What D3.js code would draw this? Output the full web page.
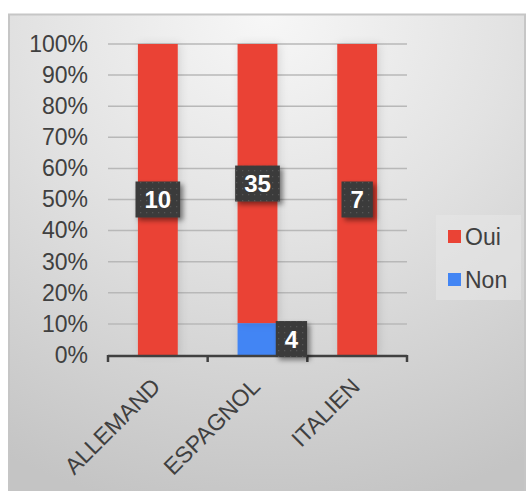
<!DOCTYPE html>
<html><head><meta charset="utf-8">
<script src="https://cdn.jsdelivr.net/npm/d3@7"></script>
<style>body{margin:0;background:#fff}svg{display:block}</style>
</head><body>
<script>
const categories = ["ALLEMAND", "ESPAGNOL", "ITALIEN"];
const seriesNames = ["Oui", "Non"];
const ouiValues = [10, 35, 7];
const nonValues = [0, 4, 0];
const yTicks = [0, 0.1, 0.2, 0.3, 0.4, 0.5, 0.6, 0.7, 0.8, 0.9, 1];
const colors = {Oui: "#EA4335", Non: "#4285F4"};

const W = 526, H = 491;
const FONT = "Liberation Sans, Arial, sans-serif";
const svg = d3.select("body").append("svg").attr("width", W).attr("height", H);
const defs = svg.append("defs");
const grad = defs.append("radialGradient").attr("id", "bg")
  .attr("cx", "0.5").attr("cy", "0").attr("r", "1.05").attr("fx", "0.5").attr("fy", "0");
grad.append("stop").attr("offset", "0").attr("stop-color", "#f7f7f7");
grad.append("stop").attr("offset", "0.45").attr("stop-color", "#e2e2e2");
grad.append("stop").attr("offset", "1").attr("stop-color", "#c4c4c4");
const pat = defs.append("pattern").attr("id", "dots").attr("width", 6).attr("height", 6)
  .attr("patternUnits", "userSpaceOnUse");
pat.append("rect").attr("width", 6).attr("height", 6).attr("fill", "#3a3a3a");
pat.append("rect").attr("x", 2).attr("y", 2).attr("width", 1.3).attr("height", 1.3).attr("fill", "#575757");
const sh = defs.append("filter").attr("id", "shadow").attr("x", "-30%").attr("y", "-30%").attr("width", "170%").attr("height", "170%");
sh.append("feDropShadow").attr("dx", 3).attr("dy", 3).attr("stdDeviation", 2.5).attr("flood-color", "#000").attr("flood-opacity", 0.45);
const bsh = defs.append("filter").attr("id", "bshadow").attr("x", "-40%").attr("y", "-5%").attr("width", "180%").attr("height", "110%");
bsh.append("feDropShadow").attr("dx", 2).attr("dy", 0).attr("stdDeviation", 4).attr("flood-color", "#000").attr("flood-opacity", 0.12);

// frame
svg.append("rect").attr("x", 9).attr("y", 14.5).attr("width", 516).attr("height", 480)
  .attr("fill", "url(#bg)").attr("stroke", "#c6c6c6").attr("stroke-width", 2);

const x = d3.scaleBand().domain(categories).range([108, 407]).paddingInner(0.6).paddingOuter(0.3);
const y = d3.scaleLinear().domain([0, 1]).range([355, 44]);

// gridlines
svg.append("g").selectAll("line").data(yTicks.filter(t => t > 0)).join("line")
  .attr("x1", 108).attr("x2", 407).attr("y1", d => y(d)).attr("y2", d => y(d))
  .attr("stroke", "#b8b8b8").attr("stroke-width", 1.5);

// y labels
const yAxis = d3.axisLeft(y).tickValues(yTicks).tickFormat(d3.format(".0%")).tickSize(0).tickPadding(0);
const ya = svg.append("g").attr("transform", "translate(88,0)").call(yAxis);
ya.select(".domain").remove();
ya.selectAll("text").attr("font-family", FONT).attr("font-size", 23).attr("fill", "#404040");

// stacked data
const rows = categories.map((c, i) => ({c, Oui: ouiValues[i], Non: nonValues[i]}));
const stack = d3.stack().keys(["Non", "Oui"]).offset(d3.stackOffsetExpand);
const series = stack(rows);

const barG = svg.append("g");
series.forEach(s => {
  barG.selectAll(null).data(s.filter(d => d.data[s.key] > 0)).join("rect")
    .attr("x", d => x(d.data.c)).attr("width", x.bandwidth())
    .attr("y", d => y(d[1])).attr("height", d => y(d[0]) - y(d[1]))
    .attr("fill", colors[s.key]).attr("filter", "url(#bshadow)");
});

// axis
const step = x.step();
const x0 = x.range()[0];
const axG = svg.append("g");
axG.append("line").attr("x1", x0).attr("x2", x.range()[1]).attr("y1", 356).attr("y2", 356)
  .attr("stroke", "#404040").attr("stroke-width", 2.5);
axG.selectAll(".tk").data(d3.range(categories.length + 1)).join("line")
  .attr("x1", i => x0 + i * step).attr("x2", i => x0 + i * step)
  .attr("y1", 355).attr("y2", 362).attr("stroke", "#404040").attr("stroke-width", 2.5);

// x labels
svg.append("g").selectAll("text").data(categories).join("text")
  .attr("transform", d => `translate(${x(d) + x.bandwidth() / 2 + 4},${388}) rotate(-45)`)
  .attr("text-anchor", "end").attr("font-family", FONT)
  .attr("font-size", 23).attr("fill", "#404040").text(d => d);

// data labels
const labG = svg.append("g");
function label(cx, cy, txt) {
  const g = labG.append("g");
  const t = g.append("text").attr("x", cx).attr("y", cy).attr("dy", "0.36em").attr("text-anchor", "middle")
    .attr("font-family", FONT).attr("font-weight", "bold")
    .attr("font-size", 24).attr("fill", "#fff").text(txt);
  const w = t.node().getComputedTextLength() + 18;
  const h = 36;
  g.insert("rect", "text").attr("x", cx - w / 2).attr("y", cy - h / 2).attr("width", w).attr("height", h)
    .attr("fill", "url(#dots)").attr("filter", "url(#shadow)");
}
series.forEach(s => {
  s.forEach(d => {
    const v = d.data[s.key];
    if (v <= 0) return;
    const cy = (y(d[0]) + y(d[1])) / 2;
    let cx = x(d.data.c) + x.bandwidth() / 2;
    if (s.key === "Non") cx = x(d.data.c) + x.bandwidth() + 14;
    label(cx, cy, v);
  });
});

// legend
const lg = svg.append("g");
lg.append("rect").attr("x", 436).attr("y", 215).attr("width", 85).attr("height", 85).attr("fill", "#e6e6e6").attr("opacity", 0.6);
seriesNames.forEach((n, i) => {
  const yy = 237 + i * 43;
  lg.append("rect").attr("x", 448).attr("y", yy - 7).attr("width", 13).attr("height", 13).attr("fill", colors[n]);
  lg.append("text").attr("x", 465).attr("y", yy).attr("dy", "0.36em")
    .attr("font-family", FONT).attr("font-size", 23).attr("fill", "#404040").text(n);
});
</script>
</body></html>
